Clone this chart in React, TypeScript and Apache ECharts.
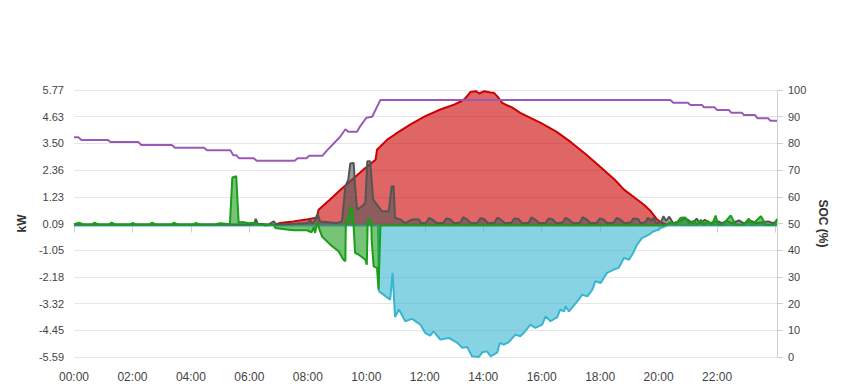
import React, { useEffect, useRef } from 'react';
import * as echarts from 'echarts';

// ---- x-axis / y-axis ticks ----
const kwMin = -5.59;
const kwMax = 5.77;
const kwStep = 1.136;
const socMin = 0;
const socMax = 100;
const socStep = 10;
const dayEndHour = 24.05;

// ---- Solar production (kW) ----
const solarTimes = ['06:30','06:53','07:03','07:30','08:00','08:15','08:19','08:22','08:45','09:07','09:31','09:58','10:19','10:22','10:43','11:00','11:30','12:00','12:32','13:00','13:15','13:24','13:34','13:45','13:52','14:02','14:15','14:22','14:29','14:39','14:49','14:59','15:16','15:37','15:58','16:30','17:00','17:30','18:00','18:30','18:49','19:09','19:30','19:44','19:57','20:08','20:20'];
const solarKw = [0,0.04,0.11,0.18,0.27,0.33,0.33,0.68,1.1,1.53,1.96,2.45,2.8,3.23,3.66,3.9,4.3,4.65,4.94,5.15,5.29,5.43,5.69,5.72,5.62,5.72,5.66,5.65,5.5,5.22,5.12,5.03,4.8,4.58,4.37,4.0,3.55,3.05,2.5,1.95,1.53,1.22,0.89,0.61,0.26,0.11,0];

// ---- Battery (kW, negative = charging) ----
const batteryTimes = ['00:00','10:24','10:26','10:29','10:49','10:54','10:59','11:07','11:20','11:34','11:51','12:01','12:11','12:18','12:32','12:49','13:07','13:17','13:27','13:37','13:51','13:58','14:08','14:15','14:29','14:34','14:42','14:52','15:06','15:16','15:23','15:37','15:47','16:01','16:08','16:18','16:32','16:38','16:46','16:49','16:56','17:16','17:23','17:34','17:44','17:50','18:01','18:14','18:28','18:38','18:49','18:59','19:06','19:16','19:26','19:33','19:40','19:50','20:00','20:04','20:18','24:03'];
const batteryKw = [0,0,-2.79,-2.84,-3.15,-2.01,-3.89,-3.57,-4.07,-3.97,-4.21,-4.57,-4.68,-4.5,-4.85,-4.78,-4.99,-5.2,-5.16,-5.56,-5.59,-5.39,-5.35,-5.56,-5.39,-4.99,-5.06,-4.97,-4.64,-4.71,-4.57,-4.21,-4.35,-4.21,-3.86,-4.07,-3.89,-3.57,-3.65,-3.43,-3.65,-3.15,-2.94,-3.01,-2.72,-2.37,-2.44,-2.01,-1.87,-1.8,-1.37,-1.45,-1.23,-0.81,-0.52,-0.46,-0.38,-0.24,-0.17,-0.1,0,0];

// ---- Consumption (kW) ----
const loadTimes = ['00:00','06:00','06:10','06:13','06:17','06:40','06:50','06:55','07:00','08:00','08:05','08:08','08:14','08:20','08:25','09:00','09:10','09:17','09:23','09:27','09:34','09:37','09:41','09:51','09:58','10:02','10:08','10:14','10:22','10:32','10:46','10:52','10:56','10:59','11:10','11:20','11:34','11:48','11:53','12:03','12:09','12:17','12:25','12:38','12:44','12:52','13:00','13:13','13:19','13:27','13:35','13:48','13:54','14:02','14:10','14:23','14:29','14:37','14:45','14:58','15:04','15:12','15:20','15:33','15:39','15:47','15:55','16:08','16:14','16:22','16:30','16:43','16:49','16:57','17:05','17:18','17:24','17:32','17:40','17:53','17:59','18:07','18:15','18:28','18:34','18:42','18:50','19:03','19:08','19:18','19:23','19:33','19:38','19:45','19:50','19:55','20:05','20:10','20:15','20:22','20:30','20:45','20:52','21:00','21:10','21:18','21:25','21:35','21:45','22:00','22:10','22:20','22:30','22:45','22:55','23:10','23:20','23:45','23:55','24:03'];
const loadKw = [0.05,0.05,0.08,0.29,0.08,0.05,0.18,0.05,0.05,0.11,0.26,0.1,0.2,0.51,0.18,0.11,0.18,1.67,1.96,2.64,2.67,1.67,0.68,0.82,0.97,2.74,2.74,1.11,0.89,0.61,0.61,1.67,1.67,0.33,0.26,0.11,0.26,0.26,0.1,0.12,0.33,0.24,0.1,0.12,0.3,0.27,0.1,0.13,0.36,0.26,0.1,0.12,0.31,0.28,0.1,0.12,0.34,0.24,0.1,0.13,0.3,0.28,0.1,0.12,0.35,0.25,0.1,0.12,0.3,0.27,0.1,0.13,0.33,0.24,0.1,0.12,0.36,0.27,0.1,0.12,0.3,0.26,0.1,0.13,0.33,0.25,0.1,0.14,0.3,0.28,0.1,0.15,0.33,0.2,0.35,0.1,0.15,0.4,0.2,0.38,0.1,0.2,0.3,0.25,0.1,0.3,0.1,0.25,0.1,0.2,0.1,0.2,0.1,0.22,0.1,0.2,0.1,0.18,0.1,0.2];

// ---- Grid (kW, negative = export) ----
const gridTimes = ['00:00','00:10','00:20','00:38','00:42','00:50','01:12','01:17','01:25','01:55','02:00','02:08','02:35','02:40','02:48','03:20','03:25','03:33','04:05','04:10','04:18','04:50','05:00','05:20','05:25','05:33','05:38','05:45','06:00','06:10','06:20','06:50','06:53','07:17','07:31','07:58','08:08','08:12','08:15','08:19','08:24','08:29','08:46','09:03','09:13','09:17','09:18','09:23','09:27','09:31','09:34','09:37','09:44','09:58','10:01','10:03','10:10','10:11','10:15','10:22','10:25','10:29','20:10','20:25','20:35','20:45','20:55','21:02','21:12','21:20','21:27','21:33','21:40','21:50','21:57','22:02','22:12','22:28','22:38','22:55','23:05','23:12','23:30','23:40','23:57','24:03'];
const gridKw = [0.06,0.12,0.05,0.05,0.13,0.05,0.05,0.13,0.05,0.05,0.11,0.05,0.05,0.12,0.05,0.05,0.12,0.05,0.05,0.11,0.05,0.06,0.1,0.06,2.05,2.1,0.12,0.15,0.1,0.12,0.05,0.04,-0.1,-0.17,-0.2,-0.2,-0.28,-0.06,-0.31,0.14,-0.17,-0.46,-0.81,-1.09,-1.45,-1.52,0.26,0.26,0.75,0.75,-0.03,-1.16,-1.23,-1.45,-1.66,0.26,0.26,-0.6,-1.73,-1.8,-2.72,0,0,0.14,0.05,0.33,0.35,0.1,0.2,0.05,0.25,0.05,0.2,0.05,0.43,0.05,0.05,0.43,0.05,0.05,0.3,0.05,0.4,0.04,0.04,0.28];

// ---- Battery state of charge (%) ----
const socTimes = ['00:00','00:09','00:15','01:09','01:15','02:12','02:18','03:21','03:27','04:27','04:33','05:21','05:27','05:33','05:39','06:09','06:15','07:33','07:39','07:57','08:03','08:30','08:39','09:06','09:17','09:23','09:41','09:47','10:00','10:12','10:29','20:24','20:30','21:00','21:05','21:29','21:33','21:55','22:00','22:24','22:29','22:51','22:55','23:18','23:23','23:45','23:49','24:03'];
const socPct = [82.3,82.3,81.3,81.3,80.5,80.5,79.4,79.4,78.4,78.4,77.4,77.4,75.6,75.6,74.4,74.4,73.5,73.5,74.4,74.4,75.4,75.4,77.3,82.4,85.3,84.4,84.4,86.3,89.6,90.0,96.3,96.3,95.2,95.2,94.4,94.4,93.5,93.5,92.5,92.5,91.5,91.5,90.6,90.6,89.4,89.4,88.5,88.5];

const toHour = (t: string) => {
  const [h, m] = t.split(':').map(Number);
  return h + m / 60;
};
const pairs = (times: string[], values: number[]) => times.map((t, i) => [toHour(t), values[i]]);

const FONT = "'Liberation Sans', Arial, sans-serif";
const GRID_COLOR = '#e6e6e6';
const AXIS_COLOR = '#d0d0d0';
const LABEL_COLOR = '#444';

function areaSeries(name: string, data: number[][], color: string, z: number) {
  return {
    name,
    type: 'line',
    data,
    showSymbol: false,
    symbol: 'none',
    z,
    lineStyle: { color, width: 2 },
    itemStyle: { color },
    areaStyle: { color, opacity: 0.6 },
  };
}

export default function App() {
  const ref = useRef<HTMLDivElement>(null);
  useEffect(() => {
    if (!ref.current) return;
    const chart = echarts.init(ref.current, undefined, { renderer: 'svg' });
    chart.setOption({
      animation: false,
      textStyle: { fontFamily: FONT },
      grid: { left: 74, right: 72, top: 90, bottom: 33, containLabel: false },
      xAxis: {
        type: 'value',
        min: 0,
        max: dayEndHour,
        interval: 2,
        axisLine: { show: true, lineStyle: { color: AXIS_COLOR } },
        axisTick: { show: true, length: 7, lineStyle: { color: AXIS_COLOR } },
        splitLine: { show: false },
        axisLabel: {
          color: LABEL_COLOR,
          fontSize: 12,
          fontFamily: FONT,
          margin: 14,
          formatter: (v: number) => {
            if (Math.abs(v - Math.round(v)) > 1e-6 || Math.round(v) % 2 !== 0 || v >= 24) return '';
            const h = Math.round(v);
            return (h < 10 ? '0' : '') + h + ':00';
          },
        },
      },
      yAxis: [
        {
          type: 'value',
          min: kwMin,
          max: kwMax,
          interval: kwStep,
          name: 'kW',
          nameLocation: 'middle',
          nameGap: 42,
          nameTextStyle: { color: '#333', fontSize: 12, fontWeight: 'bold', fontFamily: FONT },
          axisLine: { show: false },
          axisTick: { show: false },
          splitLine: { show: true, lineStyle: { color: GRID_COLOR } },
          axisLabel: {
            color: LABEL_COLOR,
            fontSize: 11,
            fontFamily: FONT,
            margin: 10,
            formatter: (v: number) => v.toFixed(2),
          },
        },
        {
          type: 'value',
          min: socMin,
          max: socMax,
          interval: socStep,
          name: 'SOC (%)',
          nameLocation: 'middle',
          nameGap: 38,
          nameRotate: -90,
          nameTextStyle: { color: '#333', fontSize: 12, fontWeight: 'bold', fontFamily: FONT },
          axisLine: { show: true, lineStyle: { color: AXIS_COLOR } },
          axisTick: { show: true, length: 6, lineStyle: { color: AXIS_COLOR } },
          splitLine: { show: false },
          axisLabel: { color: LABEL_COLOR, fontSize: 11, fontFamily: FONT, margin: 11 },
        },
      ],
      series: [
        areaSeries('Solar', pairs(solarTimes, solarKw), '#cc0000', 2),
        areaSeries('Battery', pairs(batteryTimes, batteryKw), '#38b6d0', 3),
        areaSeries('Consumption', pairs(loadTimes, loadKw), '#555555', 4),
        areaSeries('Grid', pairs(gridTimes, gridKw), '#1a9e1a', 5),
        {
          name: 'SOC',
          type: 'line',
          yAxisIndex: 1,
          data: pairs(socTimes, socPct),
          showSymbol: false,
          symbol: 'none',
          z: 6,
          lineStyle: { color: '#9b59b6', width: 2 },
          itemStyle: { color: '#9b59b6' },
        },
      ],
    });
    return () => chart.dispose();
  }, []);
  return (
    <div
      ref={ref}
      style={{ position: 'fixed', left: 0, top: 0, width: 849, height: 390, background: '#fff' }}
    />
  );
}
